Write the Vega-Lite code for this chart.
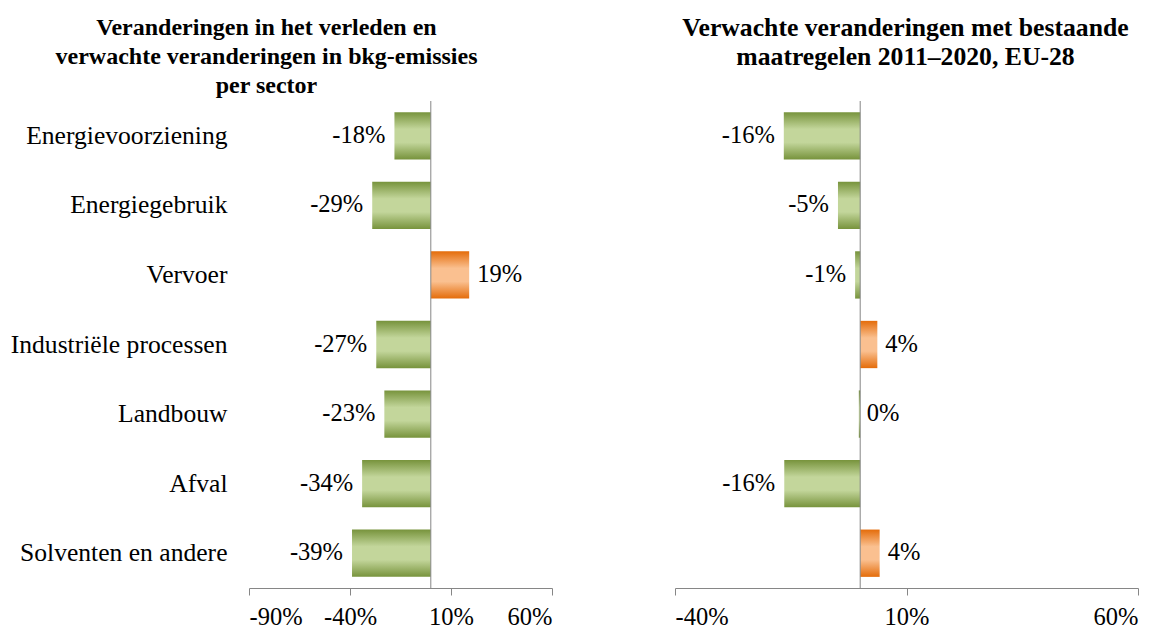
{
  "$schema": "https://vega.github.io/schema/vega-lite/v6.json",
  "background": "white",
  "padding": {"left": 10, "top": 14, "right": 0, "bottom": 0},
  "config": {
    "font": "'Liberation Serif', 'Times New Roman', serif",
    "view": {"stroke": null},
    "axis": {"labelFont": "'Liberation Serif', 'Times New Roman', serif", "labelColor": "#000000", "grid": false},
    "title": {"font": "'Liberation Serif', 'Times New Roman', serif", "color": "#000000"},
    "text": {"font": "'Liberation Serif', 'Times New Roman', serif"}
  },
  "datasets": {
    "left": [
      {"sector": "Energievoorziening", "value": -18, "label": "-18%"},
      {"sector": "Energiegebruik", "value": -29, "label": "-29%"},
      {"sector": "Vervoer", "value": 19, "label": "19%"},
      {"sector": "Industriële processen", "value": -27, "label": "-27%"},
      {"sector": "Landbouw", "value": -23, "label": "-23%"},
      {"sector": "Afval", "value": -34, "label": "-34%"},
      {"sector": "Solventen en andere", "value": -39, "label": "-39%"}
    ],
    "right": [
      {"sector": "Energievoorziening", "value": -16.5, "label": "-16%"},
      {"sector": "Energiegebruik", "value": -4.8, "label": "-5%"},
      {"sector": "Vervoer", "value": -1.1, "label": "-1%"},
      {"sector": "Industriële processen", "value": 3.7, "label": "4%"},
      {"sector": "Landbouw", "value": -0.3, "label": "0%"},
      {"sector": "Afval", "value": -16.4, "label": "-16%"},
      {"sector": "Solventen en andere", "value": 4.2, "label": "4%"}
    ]
  },
  "spacing": 123,
  "bounds": "flush",
  "hconcat": [
    {
      "width": 303,
      "height": 487,
      "data": {"name": "left"},
      "title": {
        "text": ["Veranderingen in het verleden en", "verwachte veranderingen in bkg-emissies", "per sector"],
        "fontSize": 24, "fontWeight": "bold", "lineHeight": 29, "offset": 3,
        "anchor": "middle", "frame": "group", "dx": -134
      },
      "encoding": {
        "y": {"field": "sector", "type": "nominal",
              "sort": ["Energievoorziening", "Energiegebruik", "Vervoer", "Industriële processen", "Landbouw", "Afval", "Solventen en andere"],
              "scale": {"paddingInner": 0.32, "paddingOuter": 0.16},
              "axis": {"title": null, "ticks": false, "domain": false, "labelPadding": 22, "labelFontSize": 25.6, "labelLimit": 0}}
      },
      "layer": [
        {
          "transform": [{"filter": "datum.value < 0"}],
          "mark": {"type": "bar", "color": {"gradient": "linear", "x1": 0, "y1": 0, "x2": 0, "y2": 1, "stops": [
            {"offset": 0, "color": "#77933C"}, {"offset": 0.36, "color": "#C3D69B"}, {"offset": 0.64, "color": "#C3D69B"}, {"offset": 1, "color": "#77933C"}]}},
          "encoding": {
            "x": {"field": "value", "type": "quantitative", "scale": {"domain": [-90, 60], "nice": false, "zero": false},
                  "axis": {"title": null, "values": [-90, -40, 10, 60], "labelExpr": "datum.value + '%'", "labelFontSize": 24.5,
                           "tickSize": 7, "tickColor": "#868686", "domainColor": "#868686", "labelPadding": 10}}
          }
        },
        {
          "transform": [{"filter": "datum.value > 0"}],
          "mark": {"type": "bar", "color": {"gradient": "linear", "x1": 0, "y1": 0, "x2": 0, "y2": 1, "stops": [
            {"offset": 0, "color": "#E46C0A"}, {"offset": 0.36, "color": "#FAC090"}, {"offset": 0.64, "color": "#FAC090"}, {"offset": 1, "color": "#E46C0A"}]}},
          "encoding": {
            "x": {"field": "value", "type": "quantitative"}
          }
        },
        {
          "transform": [{"filter": "datum.value < -0.5"}],
          "mark": {"type": "text", "align": "right", "baseline": "middle", "dx": -9, "fontSize": 24.5, "color": "#000000"},
          "encoding": {
            "x": {"field": "value", "type": "quantitative"},
            "text": {"field": "label"}
          }
        },
        {
          "transform": [{"filter": "datum.value >= -0.5"}],
          "mark": {"type": "text", "align": "left", "baseline": "middle", "dx": 8, "fontSize": 24.5, "color": "#000000"},
          "encoding": {
            "x": {"field": "value", "type": "quantitative"},
            "text": {"field": "label"}
          }
        },
        {
          "data": {"values": [{"z": 0}]},
          "mark": {"type": "rule", "color": "#868686", "strokeWidth": 1},
          "encoding": {"x": {"field": "z", "type": "quantitative"}, "y": null}
        }
      ]
    },
    {
      "width": 463,
      "height": 487,
      "data": {"name": "right"},
      "title": {
        "text": ["Verwachte veranderingen met bestaande", "maatregelen 2011–2020, EU-28"],
        "fontSize": 25.7, "fontWeight": "bold", "lineHeight": 29, "offset": 30,
        "anchor": "middle", "frame": "group", "dx": -1
      },
      "encoding": {
        "y": {"field": "sector", "type": "nominal",
              "sort": ["Energievoorziening", "Energiegebruik", "Vervoer", "Industriële processen", "Landbouw", "Afval", "Solventen en andere"],
              "scale": {"paddingInner": 0.32, "paddingOuter": 0.16}, "axis": null}
      },
      "layer": [
        {
          "transform": [{"filter": "datum.value < 0"}],
          "mark": {"type": "bar", "color": {"gradient": "linear", "x1": 0, "y1": 0, "x2": 0, "y2": 1, "stops": [
            {"offset": 0, "color": "#77933C"}, {"offset": 0.36, "color": "#C3D69B"}, {"offset": 0.64, "color": "#C3D69B"}, {"offset": 1, "color": "#77933C"}]}},
          "encoding": {
            "x": {"field": "value", "type": "quantitative", "scale": {"domain": [-40, 60], "nice": false, "zero": false},
                  "axis": {"title": null, "values": [-40, 10, 60], "labelExpr": "datum.value + '%'", "labelFontSize": 24.5,
                           "tickSize": 7, "tickColor": "#868686", "domainColor": "#868686", "labelPadding": 10}}
          }
        },
        {
          "transform": [{"filter": "datum.value > 0"}],
          "mark": {"type": "bar", "color": {"gradient": "linear", "x1": 0, "y1": 0, "x2": 0, "y2": 1, "stops": [
            {"offset": 0, "color": "#E46C0A"}, {"offset": 0.36, "color": "#FAC090"}, {"offset": 0.64, "color": "#FAC090"}, {"offset": 1, "color": "#E46C0A"}]}},
          "encoding": {
            "x": {"field": "value", "type": "quantitative"}
          }
        },
        {
          "transform": [{"filter": "datum.value < -0.5"}],
          "mark": {"type": "text", "align": "right", "baseline": "middle", "dx": -9, "fontSize": 24.5, "color": "#000000"},
          "encoding": {
            "x": {"field": "value", "type": "quantitative"},
            "text": {"field": "label"}
          }
        },
        {
          "transform": [{"filter": "datum.value >= -0.5"}],
          "mark": {"type": "text", "align": "left", "baseline": "middle", "dx": 8, "fontSize": 24.5, "color": "#000000"},
          "encoding": {
            "x": {"field": "value", "type": "quantitative"},
            "text": {"field": "label"}
          }
        },
        {
          "data": {"values": [{"z": 0}]},
          "mark": {"type": "rule", "color": "#868686", "strokeWidth": 1},
          "encoding": {"x": {"field": "z", "type": "quantitative"}, "y": null}
        }
      ]
    }
  ]
}
